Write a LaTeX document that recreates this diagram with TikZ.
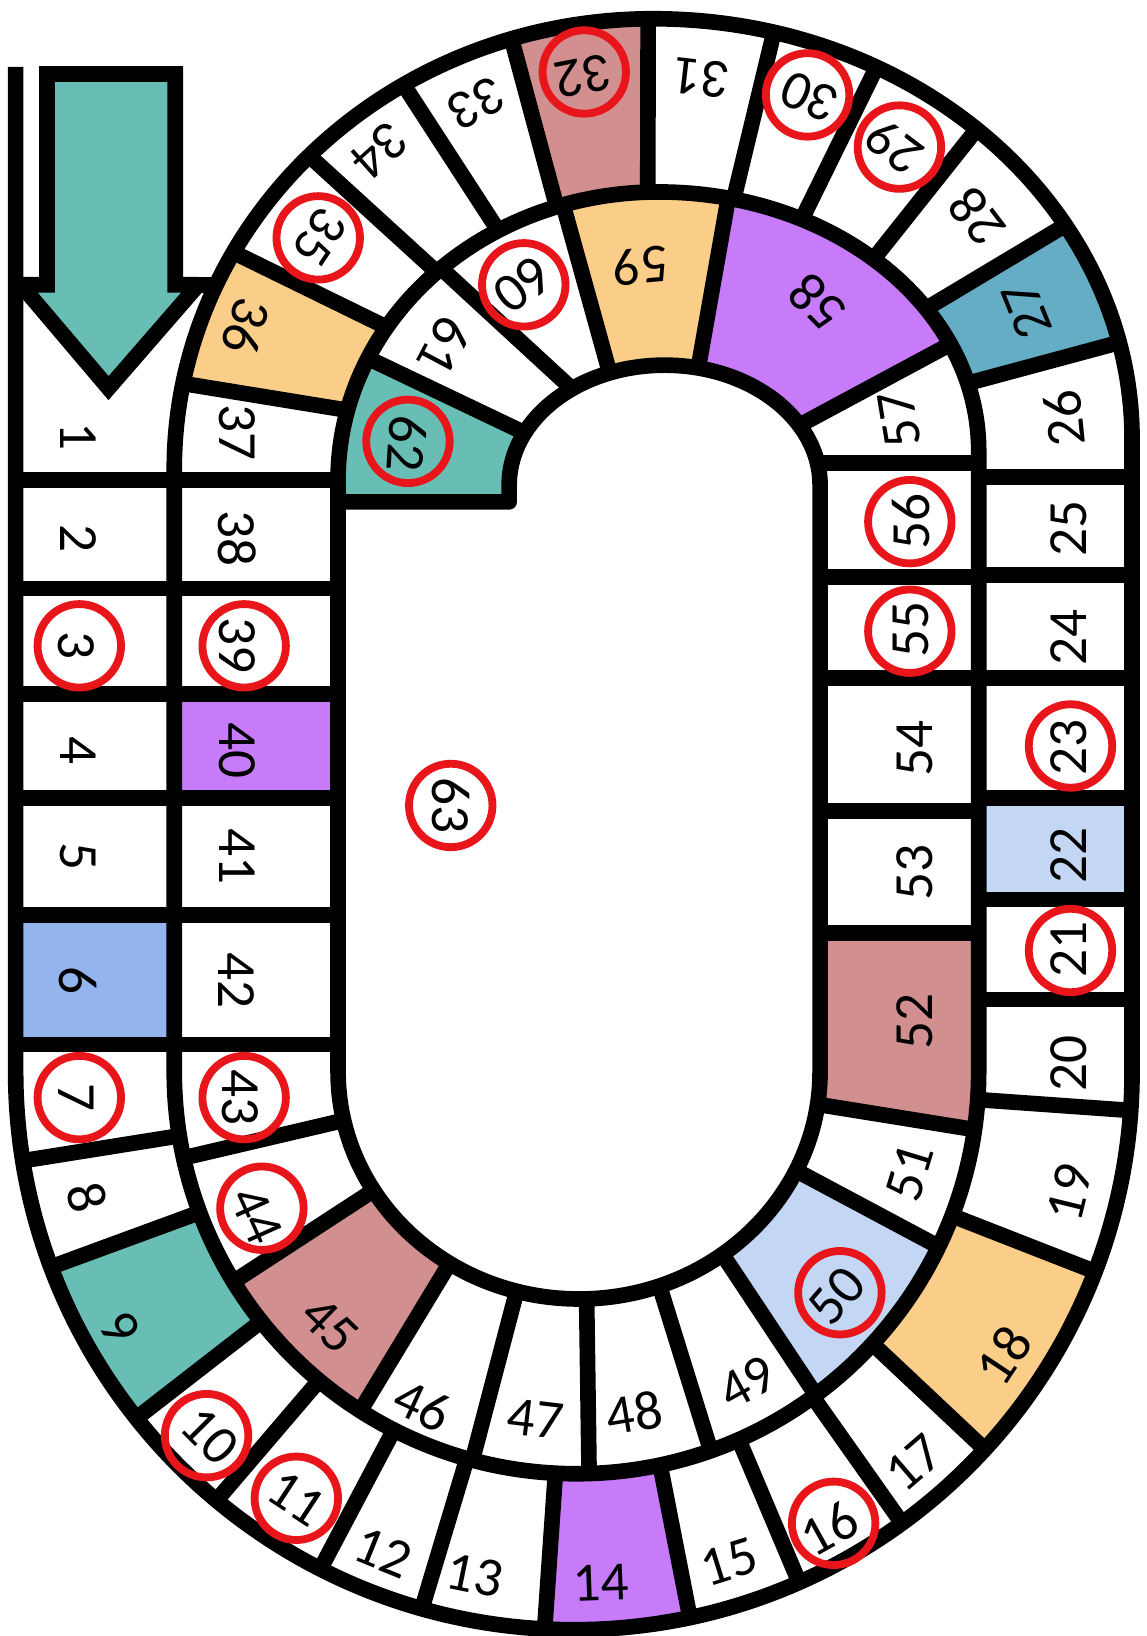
\documentclass[tikz,border=0pt]{standalone}
\usepackage{fontspec}
\setmainfont{Carlito}
\definecolor{tealc}{HTML}{68BEB4}
\definecolor{steelc}{HTML}{64ADC4}
\definecolor{pinkc}{HTML}{D18F8F}
\definecolor{orangec}{HTML}{FACD88}
\definecolor{purplec}{HTML}{C77BF8}
\definecolor{bluec}{HTML}{93B4EC}
\definecolor{lbluec}{HTML}{C3D6F4}
\definecolor{redc}{HTML}{E8161B}
\newcommand{\cellnum}[4]{\node[numlab,rotate=#4] at (#1,{1568-#2}) {#3};}
\newcommand{\redring}[2]{\draw[ringline] (#1,{1568-#2}) circle[radius=40];}
\begin{document}
\begin{tikzpicture}[x=1pt,y=1pt,
  bline/.style={line width=15pt,line cap=butt,line join=round,draw=black},
  numlab/.style={font=\fontsize{53}{60}\selectfont,inner sep=0pt},
  ringline/.style={draw=redc,line width=7.5pt},
  declare function={
    foX(\t)=550+535*cos(\t);   foY(\t)=1027+535*sin(\t);
    fmX(\t)=552.5+385.5*cos(\t); fmY(\t)=1027+385.5*sin(\t);
    fiX(\t)=555+231*cos(\t);   fiY(\t)=1027+218*sin(\t);
    farX(\t)=626+459*cos(\t);  farY(\t)=421+403*sin(\t);
    falX(\t)=626+459*cos(\t);  falY(\t)=450+432*sin(\t);
    fbrX(\t)=631+307*cos(\t);  fbrY(\t)=432+248*sin(\t);
    fblX(\t)=631+307*cos(\t);  fblY(\t)=460+276*sin(\t);
    fcX(\t)=637+149*cos(\t);   fcY(\t)=465+115*sin(\t);
  }]
\fill[white] (0,0) rectangle (1099,1568);
\useasboundingbox (0,0) rectangle (1099,1568);

\begin{scope}[shift={(0,1568)},yscale=-1]
% ---------- coloured cells ----------
% outer ring
\fill[bluec] (15,877) rectangle (167,1001);
\fill[lbluec] (938,765) rectangle (1085,862);
\fill[tealc] ({fmX(159.5)},{fmY(159.5)}) -- ({foX(159.5)},{foY(159.5)})
  arc[start angle=159.5,end angle=141.6,radius=535] -- ({fmX(141.6)},{fmY(141.6)})
  arc[start angle=141.6,end angle=159.5,radius=385.5] -- cycle;
\fill[purplec] ({fmX(93)},{fmY(93)}) -- ({foX(93)},{foY(93)})
  arc[start angle=93,end angle=78,radius=535] -- ({fmX(78)},{fmY(78)})
  arc[start angle=78,end angle=93,radius=385.5] -- cycle;
\fill[orangec] ({fmX(42.6)},{fmY(42.6)}) -- ({foX(42.6)},{foY(42.6)})
  arc[start angle=42.6,end angle=21,radius=535] -- ({fmX(21)},{fmY(21)})
  arc[start angle=21,end angle=42.6,radius=385.5] -- cycle;
\fill[steelc] ({fbrX(-15.1)},{fbrY(-15.1)}) -- ({farX(-13.3)},{farY(-13.3)})
  arc[start angle=-13.3,end angle=-30.6,x radius=459,y radius=403] -- ({fbrX(-33.3)},{fbrY(-33.3)})
  arc[start angle=-33.3,end angle=-15.1,x radius=307,y radius=248] -- cycle;
\fill[pinkc] ({fblX(-91.9)},{fblY(-91.9)}) -- ({falX(-90.6)},{falY(-90.6)})
  arc[start angle=-90.6,end angle=-107.2,x radius=459,y radius=432] -- ({fblX(-108.5)},{fblY(-108.5)})
  arc[start angle=-108.5,end angle=-91.9,x radius=307,y radius=276] -- cycle;
\fill[orangec] ({fblX(-148)},{fblY(-148)}) -- ({falX(-151.2)},{falY(-151.2)})
  arc[start angle=-151.2,end angle=-169,x radius=459,y radius=432] -- ({fblX(-166)},{fblY(-166)})
  arc[start angle=-166,end angle=-148,x radius=307,y radius=276] -- cycle;
% middle ring
\fill[purplec] (167,665) rectangle (324,765);
\fill[pinkc] ({fiX(148.5)},{fiY(148.5)}) -- ({fmX(148.5)},{fmY(148.5)})
  arc[start angle=148.5,end angle=122.5,radius=385.5] -- ({fiX(122.5)},{fiY(122.5)})
  arc[start angle=122.5,end angle=148.5,x radius=231,y radius=218] -- cycle;
\fill[lbluec] ({fiX(53.5)},{fiY(53.5)}) -- ({fmX(53.5)},{fmY(53.5)})
  arc[start angle=53.5,end angle=25.8,radius=385.5] -- ({fiX(25.8)},{fiY(25.8)})
  arc[start angle=25.8,end angle=53.5,x radius=231,y radius=218] -- cycle;
\fill[pinkc] (786,894) -- (938,894) -- (938,1027)
  arc[start angle=0,end angle=8.3,radius=385.5] -- ({fiX(8.3)},{fiY(8.3)})
  arc[start angle=8.3,end angle=0,x radius=231,y radius=218] -- cycle;
\fill[purplec] ({fcX(-29.9)},{fcY(-29.9)}) -- ({fbrX(-24.3)},{fbrY(-24.3)})
  arc[start angle=-24.3,end angle=-77.4,x radius=307,y radius=248] -- ({fcX(-77.5)},{fcY(-77.5)})
  arc[start angle=-77.5,end angle=-29.9,x radius=149,y radius=115] -- cycle;
\fill[orangec] ({fcX(-77.5)},{fcY(-77.5)}) -- ({fbrX(-77.4)},{fbrY(-77.4)})
  arc[start angle=-77.4,end angle=-90,x radius=307,y radius=248]
  arc[start angle=-90,end angle=-107.3,x radius=307,y radius=276] -- ({fcX(-110.7)},{fcY(-110.7)})
  arc[start angle=-110.7,end angle=-77.5,x radius=149,y radius=115] -- cycle;
\fill[tealc] ({fblX(-155)},{fblY(-155)})
  arc[start angle=-155,end angle=-180,x radius=307,y radius=276] -- (324,481) -- (488,481) -- (488,465)
  arc[start angle=-180,end angle=-154.2,x radius=149,y radius=115] -- cycle;

% ---------- dividers ----------
\foreach \yy in {460,564,665,765,877,1001} \draw[bline] (15,\yy) -- (324,\yy);
\foreach \yy in {457,551,650,765,862,958} \draw[bline] (938,\yy) -- (1085,\yy);
\foreach \yy in {444,553,650,777,894} \draw[bline] (784,\yy) -- (938,\yy);
\foreach \a in {170.8,159.5,141.6,129.8,117,105.8,93,78,66.2,54,42.6,21,4}
  \draw[bline] ({fmX(\a)},{fmY(\a)}) -- ({foX(\a)},{foY(\a)});
\foreach \a in {167.6,148.5,122.5,105,88.2,70.5,53.5,25.8,8.3}
  \draw[bline] ({fiX(\a)},{fiY(\a)}) -- ({fmX(\a)},{fmY(\a)});
\foreach \p/\q in {-13.3/-15.1,-30.6/-33.3,-47.5/-47.8,-62.2/-63.4,-75.4/-76.4}
  \draw[bline] ({farX(\p)},{farY(\p)}) -- ({fbrX(\q)},{fbrY(\q)});
\foreach \p/\q in {-90.6/-91.9,-107.2/-108.5,-121.4/-120,-135.9/-133.8,-151.2/-148,-169/-166}
  \draw[bline] ({falX(\p)},{falY(\p)}) -- ({fblX(\q)},{fblY(\q)});
\foreach \p/\q in {-24.3/-29.9,-77.4/-77.5}
  \draw[bline] ({fbrX(\p)},{fbrY(\p)}) -- ({fcX(\q)},{fcY(\q)});
\foreach \p/\q in {-107.3/-110.7,-132.7/-126.6,-155/-154.2}
  \draw[bline] ({fblX(\p)},{fblY(\p)}) -- ({fcX(\q)},{fcY(\q)});

% ---------- spiral track outline ----------
\draw[bline] (15,64) -- (15,1027) arc[start angle=180,end angle=0,radius=535]
  -- (1085,421) arc[start angle=0,end angle=-90,x radius=459,y radius=403]
  arc[start angle=-90,end angle=-180,x radius=459,y radius=432]
  -- (167,1027) arc[start angle=180,end angle=0,radius=385.5]
  -- (938,432) arc[start angle=0,end angle=-90,x radius=307,y radius=248]
  arc[start angle=-90,end angle=-180,x radius=307,y radius=276]
  -- (324,1027) arc[start angle=180,end angle=0,x radius=231,y radius=218]
  -- (786,465) arc[start angle=0,end angle=-180,x radius=149,y radius=115]
  -- (488,481) -- (324,481);

% ---------- start arrow ----------
\draw[bline] (168,273) -- (207,273);
\draw[bline,line join=miter,miter limit=2,fill=tealc] (45,71) -- (168,71) -- (168,273) -- (190,273)
  -- (104,372) -- (20,273) -- (45,273) -- cycle;
\end{scope}

% ---------- red rings ----------
\redring{76}{619}   \redring{76}{1052}  \redring{198}{1376} \redring{284}{1436}
\redring{799}{1460} \redring{1026}{911} \redring{1026}{715} \redring{862}{141}
\redring{774}{91}   \redring{560}{69}   \redring{305}{228}  \redring{234}{619}
\redring{234}{1052} \redring{251}{1158} \redring{805}{1239} \redring{872}{605}
\redring{872}{500}  \redring{502}{273}  \redring{391}{423}  \redring{432}{772}

% ---------- numbers ----------
\cellnum{75}{418}{1}{-90}
\cellnum{75}{516}{2}{-90}
\cellnum{73}{619}{3}{-90}
\cellnum{75}{719}{4}{-90}
\cellnum{75}{821}{5}{-90}
\cellnum{75}{940}{6}{-90}
\cellnum{73}{1052}{7}{-90}
\cellnum{83}{1148}{8}{-75.6}
\cellnum{115}{1273}{9}{-60.7}
\cellnum{201}{1376}{10}{-45.2}
\cellnum{284}{1436}{11}{-33.3}
\cellnum{367}{1488}{12}{-22}
\cellnum{455}{1510}{13}{-11.5}
\cellnum{576}{1517}{14}{2}
\cellnum{699}{1497}{15}{17.3}
\cellnum{795}{1465}{16}{28.9}
\cellnum{876}{1402}{17}{40.7}
\cellnum{962}{1299}{18}{56.4}
\cellnum{1025}{1143}{19}{76.2}
\cellnum{1024}{1019}{20}{90}
\cellnum{1024}{910}{21}{90}
\cellnum{1024}{820}{22}{90}
\cellnum{1024}{716}{23}{90}
\cellnum{1024}{611}{24}{90}
\cellnum{1024}{507}{25}{90}
\cellnum{1020}{401}{26}{95.7}
\cellnum{984}{297}{27}{112}
\cellnum{936}{208}{28}{127.2}
\cellnum{857}{141}{29}{142.8}
\cellnum{776}{93}{30}{157.2}
\cellnum{672}{75}{31}{173.4}
\cellnum{559}{73}{32}{191}
\cellnum{457}{99}{33}{206.9}
\cellnum{364}{144}{34}{221.9}
\cellnum{307}{227}{35}{236.6}
\cellnum{236}{313}{36}{252.1}
\cellnum{227}{415}{37}{-90}
\cellnum{227}{516}{38}{-90}
\cellnum{227}{619}{39}{-90}
\cellnum{227}{719}{40}{-90}
\cellnum{227}{821}{41}{-90}
\cellnum{227}{940}{42}{-90}
\cellnum{230}{1052}{43}{-90}
\cellnum{246}{1165}{44}{-65.8}
\cellnum{316}{1270}{45}{-44.3}
\cellnum{405}{1347}{46}{-24.8}
\cellnum{513}{1360}{47}{-6.8}
\cellnum{608}{1354}{48}{9.5}
\cellnum{716}{1325}{49}{28.7}
\cellnum{802}{1242}{50}{49.2}
\cellnum{872}{1124}{51}{73.1}
\cellnum{877}{979}{52}{90}
\cellnum{877}{836}{53}{90}
\cellnum{877}{717}{54}{90}
\cellnum{873}{603}{55}{90}
\cellnum{873}{500}{56}{90}
\cellnum{862}{402}{57}{99.3}
\cellnum{783}{290}{58}{134.4}
\cellnum{614}{255}{59}{185}
\cellnum{501}{273}{60}{217.7}
\cellnum{426}{332}{61}{242.1}
\cellnum{390}{425}{62}{266.4}
\cellnum{432}{772}{63}{-90}
\end{tikzpicture}
\end{document}
